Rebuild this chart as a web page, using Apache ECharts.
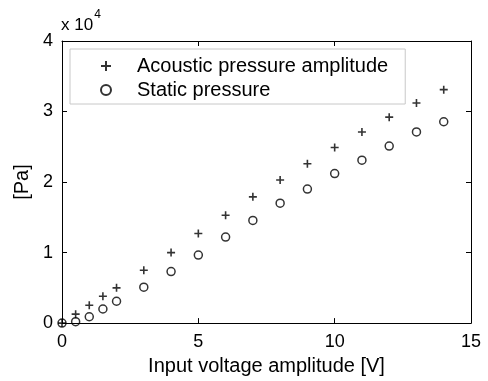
<!DOCTYPE html>
<html>
<head>
<meta charset="utf-8">
<script src="https://cdn.jsdelivr.net/npm/echarts@6/dist/echarts.min.js"></script>
<style>
  html, body { margin: 0; padding: 0; background: #fff; }
  #chart { width: 488px; height: 381px; }
</style>
</head>
<body>
<div id="chart"></div>
<script>
// input voltage amplitude [V]
const voltage = [0, 0.5, 1, 1.5, 2, 3, 4, 5, 6, 7, 8, 9, 10, 11, 12, 13, 14];
// pressures [Pa]
const acoustic = [0, 1270, 2540, 3800, 5000, 7500, 10000, 12700, 15300, 17900, 20300, 22600, 24900, 27100, 29200, 31200, 33100];
const staticP = [0, 200, 900, 2000, 3100, 5100, 7300, 9650, 12200, 14560, 17000, 19000, 21200, 23100, 25100, 27100, 28550];
const xTicks = [0, 5, 10, 15];
const yTicks = [0, 1, 2, 3, 4];

const font = "Liberation Sans, Arial, sans-serif";
const plusPath = "path://M4,0h2v4h4v2h-4v4h-2v-4h-4v-2h4z";

const chart = echarts.init(document.getElementById("chart"));

let axisCommon = {
  axisLine: { show: true, onZero: false, lineStyle: { color: "#000", width: 1 } },
  axisTick: { show: true, inside: true, length: 5, lineStyle: { color: "#000" } },
  splitLine: { show: false },
};

chart.setOption({
  animation: false,
  backgroundColor: "#fff",
  grid: { left: 62, right: 17, top: 41, bottom: 57 },
  legend: {
    orient: "vertical",
    left: 70,
    top: 49,
    padding: [7, 17, 4, 30],
    itemWidth: 10,
    itemHeight: 10,
    itemGap: 4,
    backgroundColor: "#fff",
    borderColor: "#c8c8c8",
    borderWidth: 1,
    borderRadius: 0,
    textStyle: { fontFamily: font, fontSize: 20, color: "#000", padding: [0, 0, 0, 21], lineHeight: 20 },
    data: ["Acoustic pressure amplitude", "Static pressure"],
  },
  xAxis: [
    Object.assign({}, axisCommon, {
      type: "value",
      min: 0,
      max: 15,
      interval: 5,
      name: "Input voltage amplitude [V]",
      nameLocation: "middle",
      nameGap: 31,
      nameTextStyle: { fontFamily: font, fontSize: 20, color: "#000" },
      axisLabel: {
        fontFamily: font, fontSize: 18, color: "#000", margin: 10,
        formatter: (v) => (xTicks.includes(v) ? String(v) : ""),
      },
    }),
    Object.assign({}, axisCommon, {
      type: "value", position: "top", min: 0, max: 15, interval: 5,
      axisLabel: { show: false },
    }),
  ],
  yAxis: [
    Object.assign({}, axisCommon, {
      type: "value",
      min: 0,
      max: 40000,
      interval: 10000,
      name: "[Pa]",
      nameLocation: "middle",
      nameGap: 27,
      nameTextStyle: { fontFamily: font, fontSize: 20, color: "#000" },
      axisLabel: {
        fontFamily: font, fontSize: 18, color: "#000", margin: 9,
        formatter: (v) => String(yTicks[Math.round(v / 10000)]),
      },
    }),
    Object.assign({}, axisCommon, {
      type: "value", position: "right", min: 0, max: 40000, interval: 10000,
      axisLabel: { show: false },
    }),
  ],
  graphic: [
    {
      type: "text",
      left: 61,
      top: 9,
      style: {
        text: "{a|x 10}{b|4}",
        rich: {
          a: { fontFamily: font, fontSize: 17, fill: "#000", padding: [8, 0, 0, 0] },
          b: { fontFamily: font, fontSize: 12, fill: "#000", verticalAlign: "top", padding: [0, 0, 8, 1] },
        },
      },
    },
  ],
  series: [
    {
      name: "Acoustic pressure amplitude",
      type: "scatter",
      symbol: plusPath,
      symbolSize: 8,
      clip: false,
      itemStyle: { color: "#000" },
      data: voltage.map((v, i) => [v, acoustic[i]]),
    },
    {
      name: "Static pressure",
      type: "scatter",
      symbol: "circle",
      symbolSize: 8,
      clip: false,
      itemStyle: { color: "rgba(0,0,0,0)", borderColor: "#000", borderWidth: 1.5 },
      data: voltage.map((v, i) => [v, staticP[i]]),
    },
  ],
});
</script>
</body>
</html>
